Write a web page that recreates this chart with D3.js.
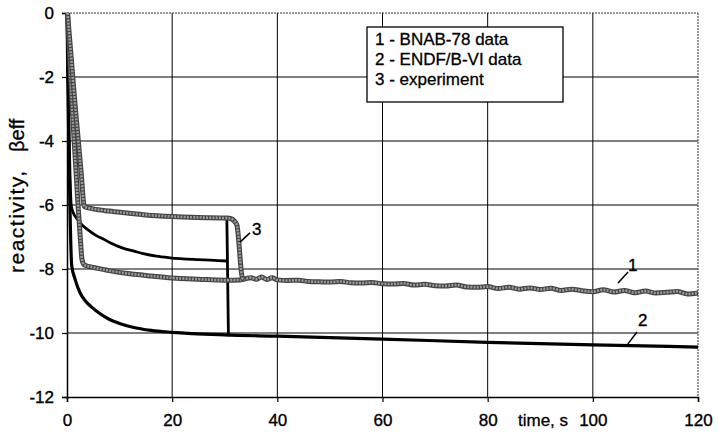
<!DOCTYPE html>
<html><head><meta charset="utf-8">
<script src="https://cdn.jsdelivr.net/npm/d3@7"></script>
<style>body{margin:0;background:#fff}svg{display:block}text{font-family:"Liberation Sans",Arial,sans-serif;fill:#000}</style>
</head><body><svg id="c" width="718" height="434"></svg>
<script>
// ---- data ----
const xTicks = [0,20,40,60,80,100,120];
const yTicks = [0,-2,-4,-6,-8,-10,-12];
const legendItems = ["1 - BNAB-78 data","2 - ENDF/B-VI data","3 - experiment"];
const xTitle = "time, s";
const yTitle1 = "reactivity,";
const yTitle2 = "\u03b2eff";
// gray (BNAB-78) curves
const g1 = [[0.1,0],[0.8,-1.4],[1.5,-2.8],[2.1,-3.9],[2.7,-5.0],[3.3,-6.05],[5,-6.12],[8,-6.19],[11.4,-6.25],[15,-6.31],[20,-6.36],[25,-6.39],[30.4,-6.41],[31.2,-6.43],[31.8,-6.5],[32.3,-6.62],[33.4,-8.3],[33.8,-8.32]];
const g2 = [[0.1,0],[1,-3],[2.1,-6],[2.6,-7.2],[2.85,-7.7],[3.3,-7.87],[5,-7.95],[8,-8.05],[12,-8.15],[16,-8.22],[20,-8.28],[25,-8.32],[30,-8.35],[33,-8.34],
 [34,-8.3],[35,-8.27],[36,-8.32],[37,-8.25],[38,-8.33],[39,-8.27],[40,-8.34],[42,-8.36],[44,-8.35],[46,-8.39],[48,-8.4],[50,-8.41],[52,-8.39],[54,-8.43],[56,-8.44],[58,-8.42],[60,-8.46],[62,-8.47],[64,-8.45],[66,-8.5],[68,-8.48],[70,-8.52],[72,-8.53],[74,-8.5],[76,-8.56],[78,-8.57],[80,-8.55],[82,-8.61],[84,-8.57],[86,-8.63],[88,-8.59],[90,-8.64],[92,-8.6],[94,-8.67],[96,-8.63],[98,-8.68],[100,-8.71],[102,-8.65],[104,-8.72],[106,-8.67],[108,-8.74],[110,-8.69],[112,-8.75],[114,-8.73],[116,-8.7],[118,-8.78],[120,-8.75]];
// black (ENDF/B-VI) curves
const b1 = [[0,0],[0.8,-6.0],[1,-6.16],[2.1,-6.47],[2.5,-6.56],[4,-6.78],[5.5,-6.95],[7.2,-7.09],[8.2,-7.18],[10.5,-7.34],[12.9,-7.45],[14.5,-7.52],[17,-7.6],[19.6,-7.65],[25,-7.71],[30.4,-7.75]];
const drop = [[30.4,-6.41],[30.7,-10.1]];
const b2 = [[0,0],[0.9,-7.9],[1.5,-8.3],[2.5,-8.75],[3.5,-9.0],[4.75,-9.2],[6.3,-9.4],[8,-9.57],[10,-9.7],[12.5,-9.82],[16,-9.92],[20,-9.98],[30,-10.06],[40,-10.1],[60,-10.19],[80,-10.29],[100,-10.37],[120,-10.44]];
// curve number labels: [label, textX, textY, fromX, fromY, toX, toY]
const curveLabels = [["1",107.6,-7.88,106.7,-8.09,104.8,-8.44],["2",109.5,-9.6,108.4,-9.97,106.5,-10.38],["3",36.1,-6.75,34.8,-6.87,32.9,-7.16]];

// ---- chart ----
const W=718,H=434, m={l:67,t:13,r:20,b:37};
const svg=d3.select("#c");
const x=d3.scaleLinear().domain([0,120]).range([m.l,W-m.r]);
const y=d3.scaleLinear().domain([-12,0]).range([H-m.b,m.t]);
const fs=17;

// gridlines
const grid=svg.append("g").attr("stroke","#000").attr("stroke-width",1);
xTicks.filter(d=>d>0&&d<120).forEach(d=>grid.append("line").attr("x1",x(d)).attr("x2",x(d)).attr("y1",y(0)).attr("y2",y(-12)));
yTicks.filter(d=>d<0&&d>-12).forEach(d=>grid.append("line").attr("x1",x(0)).attr("x2",x(120)).attr("y1",y(d)).attr("y2",y(d)));
// dotted top/right border
svg.append("line").attr("x1",x(0)).attr("x2",x(120)).attr("y1",y(0)).attr("y2",y(0)).attr("stroke","#333").attr("stroke-width",1).attr("stroke-dasharray","2,1");
svg.append("line").attr("x1",x(120)).attr("x2",x(120)).attr("y1",y(0)).attr("y2",y(-12)).attr("stroke","#333").attr("stroke-width",1).attr("stroke-dasharray","2,1");

// axes
const xa=svg.append("g").attr("transform",`translate(0,${y(-12)})`).call(d3.axisBottom(x).tickValues(xTicks).tickSize(5).tickPadding(12).tickFormat(d3.format("d")));
const ya=svg.append("g").attr("transform",`translate(${x(0)},0)`).call(d3.axisLeft(y).tickValues(yTicks).tickSize(5).tickPadding(8).tickFormat(d=>d===0?"0":"-"+Math.abs(d)));
[xa,ya].forEach(a=>{a.select(".domain").attr("stroke","#000").attr("stroke-width",1.5);a.selectAll(".tick line").attr("stroke","#000").attr("stroke-width",1.2);
 a.selectAll("text").attr("font-size",fs).attr("font-family","Liberation Sans, Arial, sans-serif").attr("fill","#000").attr("stroke","#000").attr("stroke-width",0.35);});

// curves
const line=d3.line().x(d=>x(d[0])).y(d=>y(d[1])).curve(d3.curveMonotoneX);
const lineL=d3.line().x(d=>x(d[0])).y(d=>y(d[1]));
function gray(data){
  svg.append("path").attr("d",line(data)).attr("fill","none").attr("stroke","#444").attr("stroke-width",5).attr("stroke-linejoin","round");
  svg.append("path").attr("d",line(data)).attr("fill","none").attr("stroke","#9a9a9a").attr("stroke-width",2.6).attr("stroke-dasharray","2,1.2").attr("stroke-linejoin","round");
}
function black(data,w){
  svg.append("path").attr("d",line(data)).attr("fill","none").attr("stroke","#000").attr("stroke-width",w).attr("stroke-linejoin","round");
}
black(b1,2.8);
black(b2,3.2);
svg.append("path").attr("d",lineL(drop)).attr("fill","none").attr("stroke","#000").attr("stroke-width",2.8);
gray(g2);
gray(g1);

// curve labels
curveLabels.forEach(c=>{
  svg.append("line").attr("x1",x(c[3])).attr("y1",y(c[4])).attr("x2",x(c[5])).attr("y2",y(c[6])).attr("stroke","#000").attr("stroke-width",1.5);
  svg.append("text").attr("x",x(c[1])).attr("y",y(c[2])).attr("dy","0.35em").attr("text-anchor","middle").attr("font-size",fs).attr("stroke","#000").attr("stroke-width",0.35).text(c[0]);
});

// legend
const lg=svg.append("g");
lg.append("rect").attr("x",367).attr("y",27).attr("width",196).attr("height",75).attr("fill","#fff").attr("stroke","#000").attr("stroke-width",1.3);
legendItems.forEach((t,i)=>lg.append("text").attr("x",375).attr("y",45+i*20).attr("font-size",fs).attr("stroke","#000").attr("stroke-width",0.3).text(t));

// axis titles
svg.append("text").attr("x",518).attr("y",426).attr("font-size",fs).attr("stroke","#000").attr("stroke-width",0.3).text(xTitle);
svg.append("text").attr("transform","translate(24,273) rotate(-90)").attr("font-size",21).attr("letter-spacing",1.5).attr("stroke","#000").attr("stroke-width",0.3).text(yTitle1);
svg.append("text").attr("transform","translate(24,152) rotate(-90)").attr("font-size",20).attr("stroke","#000").attr("stroke-width",0.3).text(yTitle2);
</script></body></html>
